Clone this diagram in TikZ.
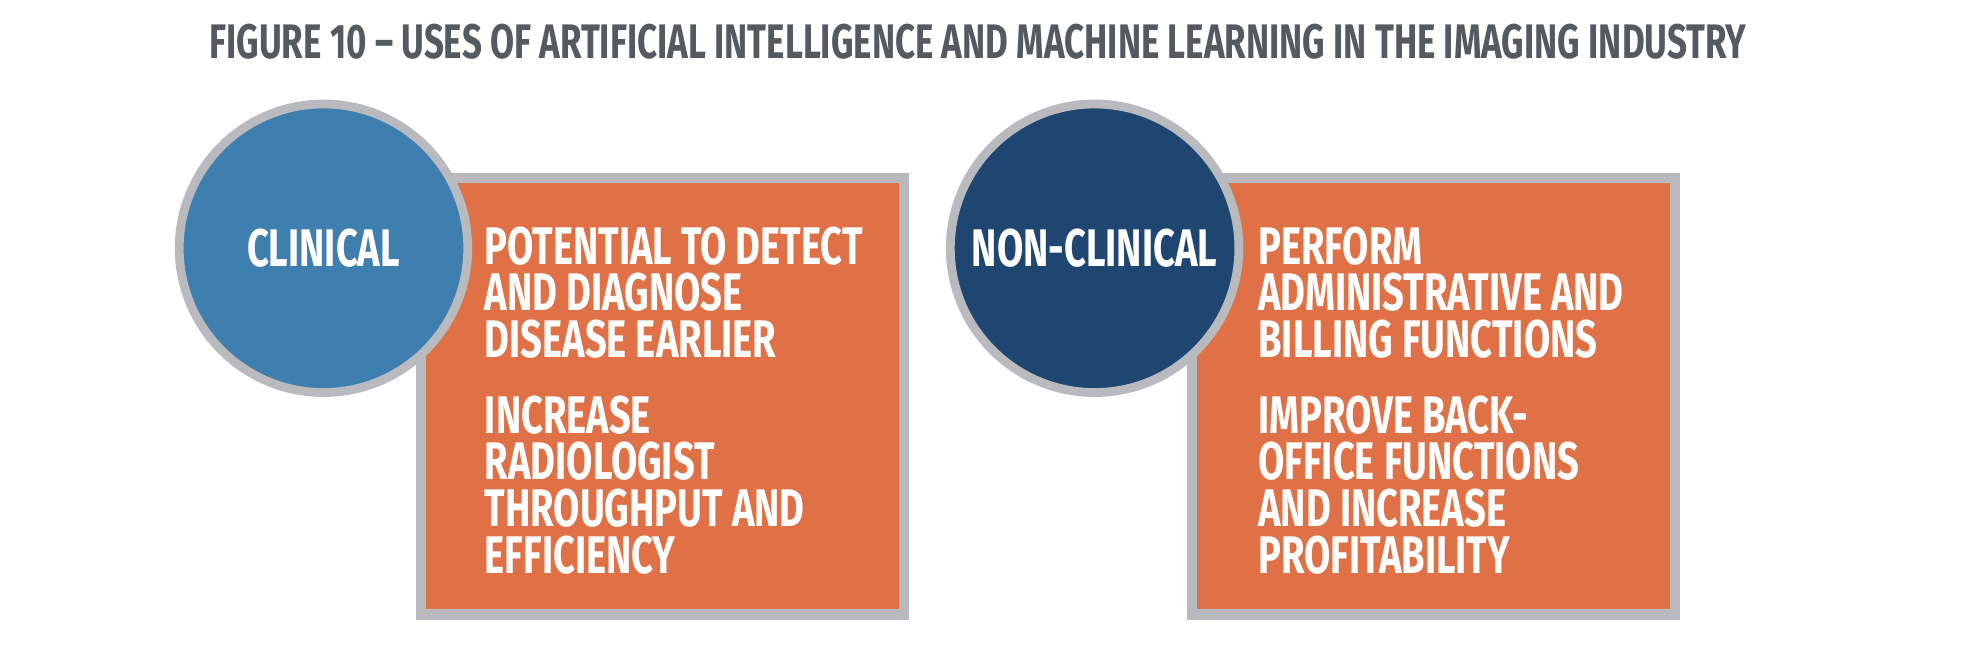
\documentclass[tikz,border=0pt]{standalone}
\usepackage{fontspec}
\setmainfont[FakeStretch=0.72,BoldFont={Fira Sans Bold}]{Fira Sans}
\usepackage{tikz}
\usetikzlibrary{positioning}
\definecolor{titlegray}{HTML}{555A60}
\definecolor{rimgray}{HTML}{B8BABD}
\definecolor{boxorange}{HTML}{E07045}
\definecolor{clinblue}{HTML}{3F7FB0}
\definecolor{nonblue}{HTML}{1F4670}
\tikzset{
  panel/.style={draw=rimgray,line width=0.08cm,fill=boxorange,minimum width=3.85cm,minimum height=3.48cm,inner sep=0pt},
  badge/.style={circle,draw=rimgray,line width=0.07cm,minimum size=2.3cm,inner sep=0pt,text=white,font=\bfseries\fontsize{12}{12}\selectfont},
  points/.style={anchor=north west,align=left,text=white,inner sep=0pt,font=\bfseries\fontsize{12}{10.6}\selectfont}
}
\begin{document}
\begin{tikzpicture}[x=0.01cm,y=-0.01cm]
        \useasboundingbox (0,0) rectangle (1568,515);
        %标题
        \node[text=titlegray,font=\bfseries\fontsize{11}{11}\selectfont] (title) at (780,33) {FIGURE 10 -- USES OF ARTIFICIAL INTELLIGENCE AND MACHINE LEARNING IN THE IMAGING INDUSTRY};
        %左边
        \node[panel] (clinbox) at (528.5,316) {};
        \node[badge,fill=clinblue] (clin) at (258,198) {CLINICAL};
        \node[points] (clintext) at (386,180) {POTENTIAL TO DETECT\\AND DIAGNOSE\\DISEASE EARLIER\\[0.23cm]INCREASE\\RADIOLOGIST\\THROUGHPUT AND\\EFFICIENCY};
        %右边
        \node[panel] (nonbox) at (1143.5,316) {};
        \node[badge,fill=nonblue] (non) at (873,198) {NON-CLINICAL};
        \node[points] (nontext) at (1003,180) {PERFORM\\ADMINISTRATIVE AND\\BILLING FUNCTIONS\\[0.23cm]IMPROVE BACK-\\OFFICE FUNCTIONS\\AND INCREASE\\PROFITABILITY};
\end{tikzpicture}
\end{document}
